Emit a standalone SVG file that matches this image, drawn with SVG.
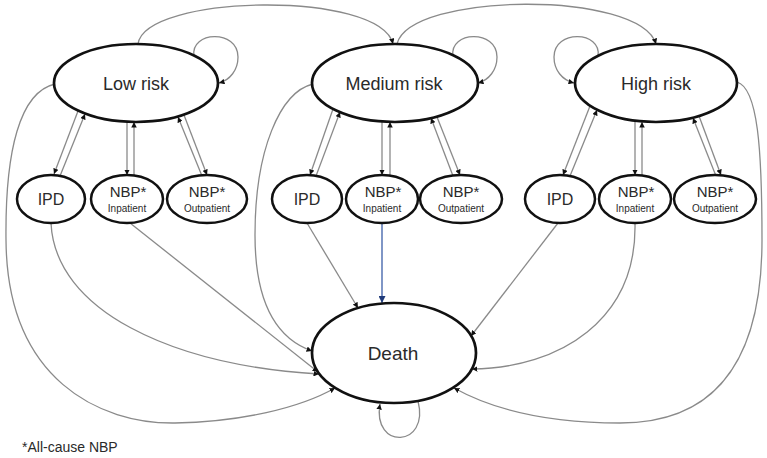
<svg xmlns="http://www.w3.org/2000/svg" width="767" height="458" viewBox="0 0 767 458">
<defs>
<marker id="ah" viewBox="0 0 10 10" refX="10" refY="5" markerWidth="5.5" markerHeight="5.5" markerUnits="userSpaceOnUse" orient="auto"><path d="M0,0 L10,5 L0,10 z" fill="#111"/></marker>
<marker id="ahb" viewBox="0 0 10 10" refX="10" refY="5" markerWidth="7" markerHeight="7" markerUnits="userSpaceOnUse" orient="auto"><path d="M0,0 L10,5 L0,10 z" fill="#1f3a7a"/></marker>
<style>
.big{fill:#fff;stroke:#111;stroke-width:2.7}
.sm{fill:#fff;stroke:#111;stroke-width:2.5}
.c{fill:none;stroke:#8a8a8a;stroke-width:1.3;marker-end:url(#ah)}
.blue{fill:none;stroke:#3b5ea8;stroke-width:1.3;marker-end:url(#ahb)}
text{font-family:"Liberation Sans",Arial,sans-serif;fill:#2a2a2a;text-anchor:middle}
.t1{font-size:18px}
.t2{font-size:16px}
.t3{font-size:15px}
.t4{font-size:10px}
.fn{font-size:14px;text-anchor:start}
</style>
</defs>
<rect width="767" height="458" fill="#fff"/>
<g id="connectors">
<path class="c" d="M138,44 C145,-6 380,-10 393,44"/>
<path class="c" d="M397,44 C410,-8 640,-10 656,44"/>
<path class="c" d="M194,56 C190,31 238,29 238,57 C238,70 230,80 219,83"/>
<path class="c" d="M453,56 C449,31 497,29 497,57 C497,70 489,80 478,83"/>
<path class="c" d="M598,56 C602,31 554,29 554,57 C554,70 562,80 574,83"/>
<path class="c" d="M418,401 C430,448 372,450 380,404"/>
<path class="c" d="M78,111 L54,174"/>
<path class="c" d="M60,176 L85,114"/>
<path class="c" d="M127,122 L127,175"/>
<path class="c" d="M134,175 L134,122"/>
<path class="c" d="M202,176 L178,117"/>
<path class="c" d="M184,115 L207,175"/>
<path class="c" d="M333,109 L310,175"/>
<path class="c" d="M316,176 L340,112"/>
<path class="c" d="M382,122 L382,175"/>
<path class="c" d="M390,175 L390,122"/>
<path class="c" d="M453,176 L431,118"/>
<path class="c" d="M437,117 L460,175"/>
<path class="c" d="M590,106 L563,175"/>
<path class="c" d="M570,176 L597,110"/>
<path class="c" d="M635,122 L635,175"/>
<path class="c" d="M642,175 L642,122"/>
<path class="c" d="M716,176 L693,118"/>
<path class="c" d="M699,116 L721,175"/>
<path class="c" d="M55,84 C20,92 5,150 6,240 C7,380 100,424 175,423 C240,422 300,408 335,388"/>
<path class="c" d="M51,223 C55,310 170,365 319,374"/>
<path class="c" d="M130,223 L318,372"/>
<path class="c" d="M313,84 C280,92 255,150 255,235 C255,300 275,338 312,351"/>
<path class="c" d="M307,223 L358,308"/>
<path class="blue" d="M382,223 L382,303"/>
<path class="c" d="M558,223 L471,336"/>
<path class="c" d="M635,223 C637,320 560,368 472,369"/>
<path class="c" d="M737,82 C758,88 762,150 762,240 C762,380 700,423 620,423 C540,423 490,408 454,388"/>
</g>
<g id="low-risk"><ellipse class="big" cx="136" cy="83" rx="82" ry="39"/><text class="t1" x="136" y="90">Low risk</text></g>
<g id="medium-risk"><ellipse class="big" cx="395" cy="83" rx="83" ry="39"/><text class="t1" x="394" y="90">Medium risk</text></g>
<g id="high-risk"><ellipse class="big" cx="656" cy="83" rx="81" ry="39"/><text class="t1" x="656" y="90">High risk</text></g>
<g id="low-ipd"><ellipse class="sm" cx="51" cy="199" rx="34" ry="24"/><text class="t2" x="51" y="205">IPD</text></g>
<g id="low-nbp-in"><ellipse class="sm" cx="127" cy="199" rx="36" ry="24"/><text class="t3" x="128" y="197">NBP*</text><text class="t4" x="127" y="212">Inpatient</text></g>
<g id="low-nbp-out"><ellipse class="sm" cx="207" cy="199" rx="40" ry="24"/><text class="t3" x="207" y="197">NBP*</text><text class="t4" x="207" y="212">Outpatient</text></g>
<g id="med-ipd"><ellipse class="sm" cx="307" cy="199" rx="35" ry="24"/><text class="t2" x="307" y="205">IPD</text></g>
<g id="med-nbp-in"><ellipse class="sm" cx="382" cy="199" rx="36" ry="24"/><text class="t3" x="383" y="197">NBP*</text><text class="t4" x="382" y="212">Inpatient</text></g>
<g id="med-nbp-out"><ellipse class="sm" cx="461" cy="199" rx="41" ry="24"/><text class="t3" x="461" y="197">NBP*</text><text class="t4" x="461" y="212">Outpatient</text></g>
<g id="high-ipd"><ellipse class="sm" cx="560" cy="199" rx="35" ry="24"/><text class="t2" x="560" y="205">IPD</text></g>
<g id="high-nbp-in"><ellipse class="sm" cx="635" cy="199" rx="36" ry="24"/><text class="t3" x="636" y="197">NBP*</text><text class="t4" x="635" y="212">Inpatient</text></g>
<g id="high-nbp-out"><ellipse class="sm" cx="715" cy="199" rx="41" ry="24"/><text class="t3" x="715" y="197">NBP*</text><text class="t4" x="715" y="212">Outpatient</text></g>
<g id="death"><ellipse class="big" cx="394" cy="353" rx="82" ry="50"/><text class="t1" x="393" y="360" style="font-size:19px">Death</text></g>
<text class="fn" x="22" y="452">*All-cause NBP</text>
</svg>
